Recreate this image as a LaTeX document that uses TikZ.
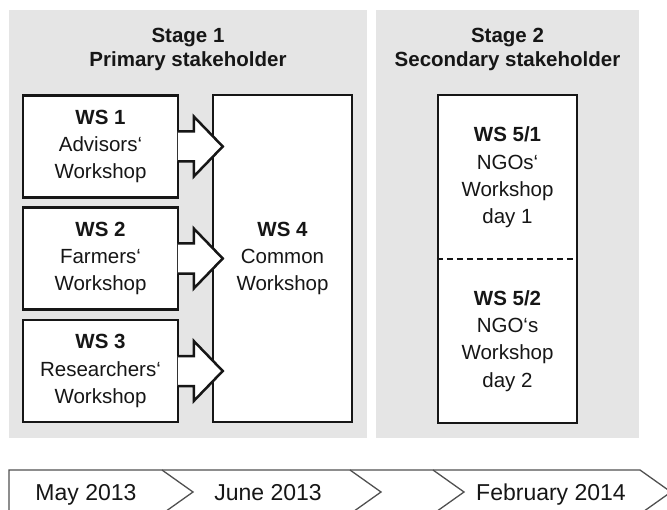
\documentclass[tikz,border=0pt]{standalone}
\usepackage{fontspec}
\setmainfont{Liberation Sans}
\usetikzlibrary{calc}
\definecolor{panel}{RGB}{229,229,229}
\definecolor{ink}{RGB}{22,22,22}
\definecolor{tl}{RGB}{80,80,80}
\begin{document}
\begin{tikzpicture}[x=1bp,y=-1bp,
  wsbox/.style={draw=ink, line width=2.5bp, fill=white, inner sep=0pt, align=center,
    font=\fontsize{20.5bp}{27.3bp}\selectfont, text=ink},
  wstext/.style={align=center, inner sep=0pt, font=\fontsize{20.5bp}{27.3bp}\selectfont, text=ink},
  titletext/.style={align=center, inner sep=0pt, font=\fontsize{20.5bp}{23.5bp}\selectfont\bfseries, text=ink},
  tltext/.style={inner sep=0pt, anchor=base, font=\fontsize{23bp}{27bp}\selectfont, text=ink},
  tlline/.style={draw=tl, line width=1.3bp, line join=miter},
  flow/.style={draw=ink, line width=2.5bp, line join=miter},
  cut/.style={draw=ink, line width=2.5bp, dash pattern=on 6bp off 4bp}
]
\useasboundingbox (0,0) rectangle (667,510);

% stage panels
\fill[panel] (9,10) rectangle (367,438);
\fill[panel] (376,10) rectangle (639,438);

% titles
\node[titletext] (t1) at (188,49.5) {Stage 1\\Primary stakeholder};
\node[titletext] (t2) at (507.5,49.5) {Stage 2\\Secondary stakeholder};

% stage 1 boxes
\node[wsbox, minimum width=139bp, minimum height=327bp] (ws4) at (282.5,258.5) {\textbf{WS 4}\\Common\\Workshop};
\node[wsbox, minimum width=155bp, minimum height=102bp] (ws1) at (100.5,146.5) {\textbf{WS 1}\\Advisors‘\\Workshop};
\node[wsbox, minimum width=155bp, minimum height=102bp] (ws2) at (100.5,258.5) {\textbf{WS 2}\\Farmers‘\\Workshop};
\node[wsbox, minimum width=155bp, minimum height=102bp] (ws3) at (100.5,371) {\textbf{WS 3}\\Researchers‘\\Workshop};

% block arrows into WS 4
\foreach \src in {ws1,ws2,ws3}{
  \coordinate (s) at (\src.east);
  \coordinate (t) at (ws4.west |- \src.east);
  \fill[white] ($(s)+(-1.4,-15)$) -- ($(t)+(-18,-15)$) -- ($(t)+(-18,-30)$) -- ($(t)+(11,0)$)
     -- ($(t)+(-18,30)$) -- ($(t)+(-18,15)$) -- ($(s)+(-1.4,15)$) -- cycle;
  \draw[flow] ($(s)+(-1.25,-15)$) -- ($(t)+(-18,-15)$) -- ($(t)+(-18,-30)$) -- ($(t)+(11,0)$)
     -- ($(t)+(-18,30)$) -- ($(t)+(-18,15)$) -- ($(s)+(-1.25,15)$);
}

% stage 2 box
\node[wsbox, minimum width=139bp, minimum height=328bp] (ws5) at (507.5,259) {};
\draw[cut] (ws5.west) -- (ws5.east);
\node[wstext] (ws51) at (507.5,177.5) {\textbf{WS 5/1}\\NGOs‘\\Workshop\\day 1};
\node[wstext] (ws52) at (507.5,341) {\textbf{WS 5/2}\\NGO‘s\\Workshop\\day 2};

% timeline
\draw[tlline] (9,514) -- (9,470) -- (640,470) -- (671,492) -- (640,514);
\foreach \x in {162,350,433}{
  \draw[tlline] (\x,470) -- (\x+31,492) -- (\x,514);
}
\node[tltext] (m1) at (86,500) {May 2013};
\node[tltext] (m2) at (268,500) {June 2013};
\node[tltext] (m3) at (551,500) {February 2014};
\end{tikzpicture}
\end{document}
